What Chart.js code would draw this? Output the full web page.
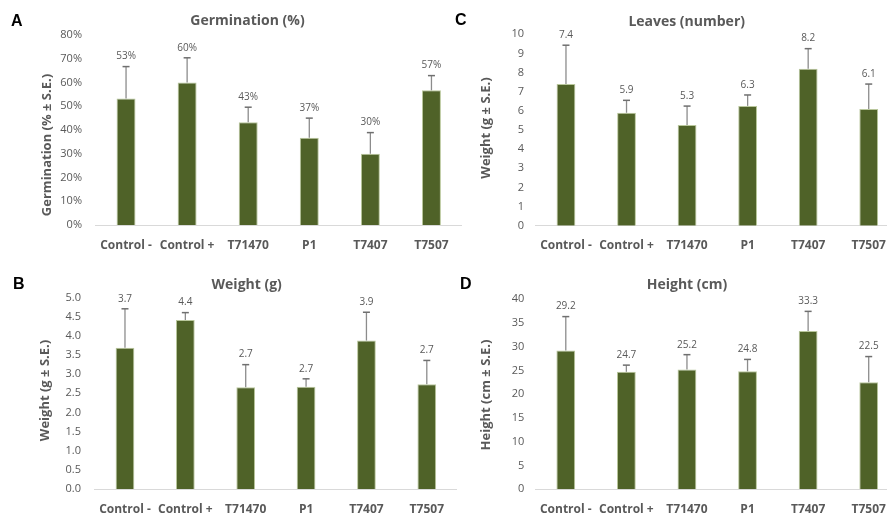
<!DOCTYPE html>
<html>
<head>
<meta charset="utf-8">
<script src="https://cdn.jsdelivr.net/npm/chart.js@4/dist/chart.umd.min.js"></script>
<style>
  html, body { margin: 0; padding: 0; background: #fff; width: 887px; height: 515px; overflow: hidden; position: relative; }
  .panel { position: absolute; }
  .panel canvas { display: block; }
  .letter { position: absolute; font: bold 16px "Liberation Sans", Arial, sans-serif; line-height: 16px; color: #000; }
</style>
</head>
<body>
<div class="panel" id="pA"><canvas id="cA"></canvas></div>
<div class="panel" id="pB"><canvas id="cB"></canvas></div>
<div class="panel" id="pC"><canvas id="cC"></canvas></div>
<div class="panel" id="pD"><canvas id="cD"></canvas></div>
<div class="letter" style="left:11px;top:13px">A</div>
<div class="letter" style="left:13px;top:276px">B</div>
<div class="letter" style="left:455px;top:12px">C</div>
<div class="letter" style="left:460px;top:276px">D</div>
<script>
// Treatments shown on every panel
const categories = ['Control -', 'Control +', 'T71470', 'P1', 'T7407', 'T7507'];

// A: germination (%) and standard errors
const germination   = [53.3, 60.0, 43.3, 36.7, 30.0, 56.7];
const germinationSE = [13.4, 10.4, 6.3, 8.3, 8.9, 6.2];

// B: fresh weight (g) and standard errors
const weight   = [3.69, 4.42, 2.66, 2.67, 3.88, 2.74];
const weightSE = [1.02, 0.19, 0.59, 0.21, 0.74, 0.62];

// C: leaf count and standard errors
const leaves   = [7.4, 5.9, 5.26, 6.26, 8.2, 6.1];
const leavesSE = [2.03, 0.65, 0.99, 0.57, 1.05, 1.3];

// D: plant height (cm) and standard errors
const height   = [29.2, 24.7, 25.2, 24.8, 33.3, 22.5];
const heightSE = [7.1, 1.4, 3.1, 2.5, 4.1, 5.4];

const GRAY = '#595959';
const FONT = '"Open Sans", "DejaVu Sans", sans-serif';

// Vertical error bar (upper side only) plus the value label above it
function errorBarPlugin(se, fmt) {
  return {
    id: 'errorBars',
    afterDatasetsDraw(chart) {
      const ctx = chart.ctx;
      const ys = chart.scales.y;
      const values = chart.data.datasets[0].data;
      ctx.save();
      chart.getDatasetMeta(0).data.forEach((bar, i) => {
        const top = ys.getPixelForValue(values[i] + se[i]);
        ctx.strokeStyle = '#8c8c8c';
        ctx.lineWidth = 1.3;
        ctx.beginPath();
        ctx.moveTo(bar.x, bar.y);
        ctx.lineTo(bar.x, top);
        ctx.stroke();
        ctx.strokeStyle = '#6f6f6f';
        ctx.lineWidth = 1.5;
        ctx.beginPath();
        ctx.moveTo(bar.x - 3.5, top);
        ctx.lineTo(bar.x + 3.5, top);
        ctx.stroke();
        ctx.fillStyle = GRAY;
        ctx.font = '10px ' + FONT;
        ctx.textAlign = 'center';
        ctx.textBaseline = 'middle';
        ctx.fillText(fmt(values[i]), bar.x, top - 10);
      });
      ctx.restore();
    }
  };
}

// Rotated y-axis title at a fixed spot of the panel
function yTitlePlugin(text, x, y) {
  return {
    id: 'yTitle',
    afterDraw(chart) {
      const ctx = chart.ctx;
      ctx.save();
      ctx.translate(x, y);
      ctx.rotate(-Math.PI / 2);
      ctx.fillStyle = GRAY;
      ctx.font = 'bold 13px ' + FONT;
      ctx.textAlign = 'center';
      ctx.textBaseline = 'middle';
      ctx.fillText(text, 0, 0);
      ctx.restore();
    }
  };
}

function panel(p) {
  const box = document.getElementById(p.box);
  box.style.left = p.left + 'px';
  box.style.top = p.top + 'px';
  const cv = document.getElementById(p.canvas);
  cv.width = p.width;
  cv.height = p.height;
  cv.style.width = p.width + 'px';
  cv.style.height = p.height + 'px';

  const titleTop = p.titleY - p.top - 8.4;
  const titleBottom = (p.plotTop - p.top) - titleTop - 16.8;

  return new Chart(cv, {
    type: 'bar',
    data: {
      labels: categories,
      datasets: [{
        data: p.values,
        backgroundColor: '#4f6228',
        borderColor: '#b9c79c',
        borderWidth: 1,
        barPercentage: 0.31,
        categoryPercentage: 1
      }]
    },
    options: {
      responsive: false,
      animation: false,
      layout: { padding: { left: p.padLeft, right: 0, top: 0, bottom: 0 } },
      plugins: {
        legend: { display: false },
        tooltip: { enabled: false },
        title: {
          display: true,
          text: p.title,
          color: GRAY,
          font: { family: FONT, size: 14, weight: 'bold', lineHeight: 1.2 },
          padding: { top: titleTop, bottom: titleBottom }
        }
      },
      scales: {
        x: {
          grid: { display: false, drawTicks: false },
          border: { display: true, color: '#d9d9d9', width: 1 },
          ticks: {
            color: GRAY,
            font: { family: FONT, size: 12, weight: 'bold' },
            padding: 13,
            maxRotation: 0,
            minRotation: 0,
            autoSkip: false
          },
          afterFit(s) { s.height = p.top + p.height - p.plotBottom; }
        },
        y: {
          min: p.min,
          max: p.max,
          grid: { display: false, drawTicks: false },
          border: { display: false },
          ticks: {
            stepSize: p.step,
            color: GRAY,
            font: { family: FONT, size: 11 },
            padding: p.tickPad,
            callback: p.tickFmt
          },
          afterFit(s) { s.width = p.plotLeft - p.left - p.padLeft; }
        }
      }
    },
    plugins: [
      errorBarPlugin(p.se, p.labelFmt),
      yTitlePlugin(p.yTitle, p.yTitleX - p.left, p.yTitleY - p.top)
    ]
  });
}

function build() {
  panel({
    box: 'pA', canvas: 'cA', left: 0, top: 0, width: 462, height: 250,
    padLeft: 33, plotLeft: 95.5, plotTop: 35, plotBottom: 225,
    titleY: 20.7, title: 'Germination (%)',
    yTitle: 'Germination (% \u00B1 S.E.)', yTitleX: 47, yTitleY: 145,
    values: germination, se: germinationSE,
    min: 0, max: 80, step: 10, tickPad: 13.5,
    tickFmt: v => v + '%',
    labelFmt: v => Math.round(v) + '%'
  });
  panel({
    box: 'pB', canvas: 'cB', left: 0, top: 255, width: 457, height: 260,
    padLeft: 36.4, plotLeft: 94.8, plotTop: 297.7, plotBottom: 489,
    titleY: 285, title: 'Weight (g)',
    yTitle: 'Weight (g \u00B1 S.E.)', yTitleX: 45, yTitleY: 390.5,
    values: weight, se: weightSE,
    min: 0, max: 5, step: 0.5, tickPad: 13.8,
    tickFmt: v => v.toFixed(1),
    labelFmt: v => v.toFixed(1)
  });
  panel({
    box: 'pC', canvas: 'cC', left: 440, top: 0, width: 459, height: 250,
    padLeft: 34.4, plotLeft: 535.7, plotTop: 34.3, plotBottom: 225.7,
    titleY: 21.7, title: 'Leaves (number)',
    yTitle: 'Weight (g \u00B1 S.E.)', yTitleX: 485.8, yTitleY: 128,
    values: leaves, se: leavesSE,
    min: 0, max: 10, step: 1, tickPad: 11.7,
    tickFmt: v => String(v),
    labelFmt: v => v.toFixed(1)
  });
  panel({
    box: 'pD', canvas: 'cD', left: 440, top: 255, width: 459, height: 260,
    padLeft: 35, plotLeft: 535.5, plotTop: 299, plotBottom: 489.3,
    titleY: 285, title: 'Height (cm)',
    yTitle: 'Height (cm \u00B1 S.E.)', yTitleX: 486.5, yTitleY: 395,
    values: height, se: heightSE,
    min: 0, max: 40, step: 5, tickPad: 11.2,
    tickFmt: v => String(v),
    labelFmt: v => v.toFixed(1)
  });
}

const fontsReady = document.fonts
  ? Promise.all([
      document.fonts.load('11px "Open Sans"'),
      document.fonts.load('bold 12px "Open Sans"')
    ]).catch(() => {})
  : Promise.resolve();
fontsReady.then(build);
</script>
</body>
</html>
